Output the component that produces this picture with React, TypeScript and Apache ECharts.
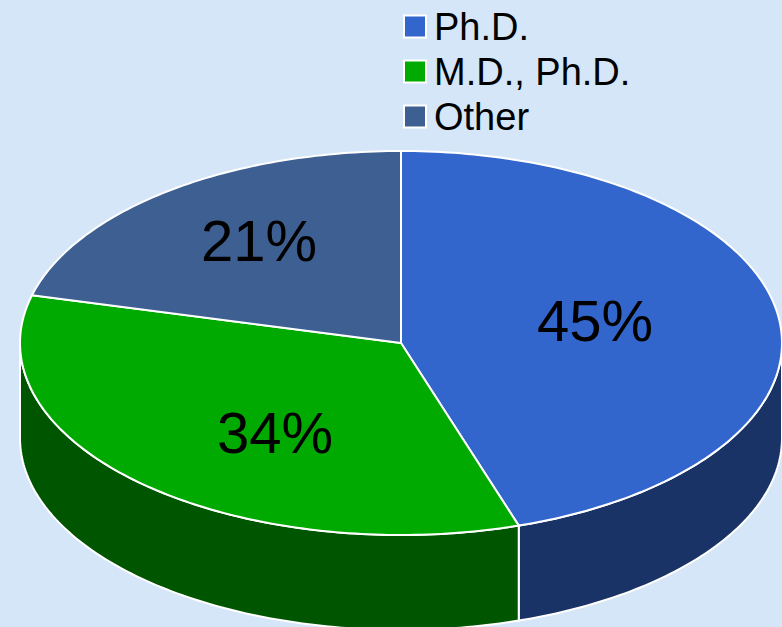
import React, { useEffect, useRef } from "react";
import * as echarts from "echarts";

const categories = ["Ph.D.", "M.D., Ph.D.", "Other"];
const shares = [45, 34, 21];
const topColors = ["#3366cc", "#00aa00", "#3e5f92"];
const wallColors = ["#1a3366", "#005500", "#1f3049"];

// Layout of the tilted pie, in pixels
const PIE = { cx: 401, cy: 343, rx: 381, ry: 192, depth: 95 };
const labelCentres = [
  [595, 320],
  [275, 432],
  [259, 240],
];
const STEP = Math.PI / 180;
const total = shares.reduce((a, b) => a + b, 0);

function rim(t: number, drop = 0): number[] {
  return [
    PIE.cx + PIE.rx * Math.sin(t),
    PIE.cy - PIE.ry * Math.cos(t) + drop,
  ];
}

function arcPoints(from: number, to: number, drop = 0): number[][] {
  const pts: number[][] = [];
  const n = Math.max(2, Math.ceil(Math.abs(to - from) / STEP));
  for (let i = 0; i <= n; i++) pts.push(rim(from + ((to - from) * i) / n, drop));
  return pts;
}

function makeSeries(index: number) {
  const before = shares.slice(0, index).reduce((a, b) => a + b, 0);
  return {
    type: "custom",
    name: categories[index],
    coordinateSystem: "none",
    silent: true,
    itemStyle: { color: topColors[index] },
    data: [shares[index]],
    z: 2 + index,
    renderItem: (_params: any, api: any) => {
      const value = api.value(0);
      const a0 = (before / total) * 2 * Math.PI;
      const a1 = ((before + value) / total) * 2 * Math.PI;
      const children: any[] = [];
      // Only the part of the rim facing the viewer has a visible wall
      const w0 = Math.max(a0, Math.PI / 2);
      const w1 = Math.min(a1, (3 * Math.PI) / 2);
      if (w1 > w0) {
        const wall = [
          ...arcPoints(w0, w1, 0),
          ...arcPoints(w1, w0, PIE.depth),
        ];
        children.push({
          type: "polygon",
          shape: { points: wall },
          style: { fill: wallColors[index], stroke: "#ffffff", lineWidth: 2 },
        });
      }
      children.push({
        type: "polygon",
        shape: { points: [[PIE.cx, PIE.cy], ...arcPoints(a0, a1)] },
        style: { fill: topColors[index], stroke: "#ffffff", lineWidth: 2 },
      });
      const [lx, ly] = labelCentres[index];
      children.push({
        type: "text",
        x: lx,
        y: ly,
        style: {
          text: `${value}%`,
          fill: "#000000",
          font: "58px 'Liberation Sans'",
          align: "center",
          verticalAlign: "middle",
        },
      });
      return { type: "group", children };
    },
  };
}

export default function App() {
  const ref = useRef<HTMLDivElement>(null);
  useEffect(() => {
    document.body.style.margin = "0";
    const chart = echarts.init(ref.current!, undefined, { renderer: "svg" });
    chart.setOption({
      animation: false,
      backgroundColor: "#d4e6f7",
      legend: {
        data: categories.map((name) => ({ name, icon: "rect" })),
        orient: "vertical",
        left: 403,
        top: 6,
        padding: 0,
        itemWidth: 22,
        itemHeight: 22,
        itemGap: 4,
        selectedMode: false,
        itemStyle: { borderColor: "#ffffff", borderWidth: 2 },
        textStyle: {
          fontFamily: "'Liberation Sans'",
          fontSize: 38,
          color: "#000000",
          padding: [0, 0, 0, 3],
          lineHeight: 41,
        },
      },
      series: categories.map((_, i) => makeSeries(i)),
    });
    return () => chart.dispose();
  }, []);
  return (
    <div
      ref={ref}
      style={{ position: "absolute", left: 0, top: 0, width: 782, height: 627, overflow: "hidden" }}
    />
  );
}
